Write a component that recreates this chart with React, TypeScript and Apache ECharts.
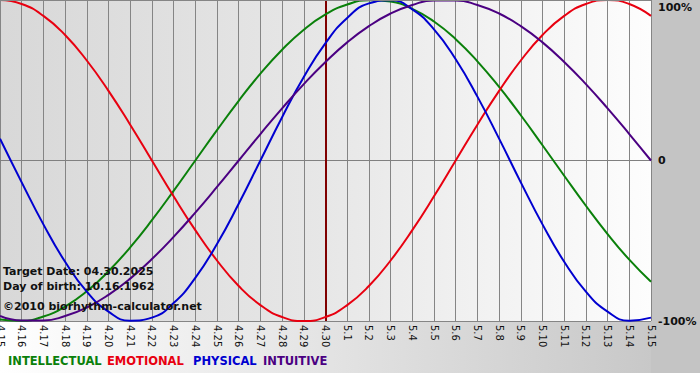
import React, { useEffect, useRef } from "react";
import * as echarts from "echarts";

const dates = [
  "4.15", "4.16", "4.17", "4.18", "4.19", "4.20", "4.21", "4.22", "4.23", "4.24",
  "4.25", "4.26", "4.27", "4.28", "4.29", "4.30", "5.1", "5.2", "5.3", "5.4",
  "5.5", "5.6", "5.7", "5.8", "5.9", "5.10", "5.11", "5.12", "5.13", "5.14", "5.15",
];

const intellectual = [
  -0.99, -0.999, -0.972, -0.91, -0.815, -0.69, -0.541, -0.372, -0.189, 0,
  0.189, 0.372, 0.541, 0.69, 0.815, 0.91, 0.972, 0.999, 0.99, 0.945,
  0.866, 0.756, 0.618, 0.458, 0.282, 0.095, -0.095, -0.282, -0.458, -0.618, -0.756,
];

const emotional = [
  1, 0.975, 0.901, 0.782, 0.623, 0.434, 0.223, 0, -0.223, -0.434,
  -0.623, -0.782, -0.901, -0.975, -1, -0.975, -0.901, -0.782, -0.623, -0.434,
  -0.223, 0, 0.223, 0.434, 0.623, 0.782, 0.901, 0.975, 1, 0.975, 0.901,
];

const physical = [
  0.136, -0.136, -0.398, -0.631, -0.817, -0.942, -0.998, -0.979, -0.888, -0.731,
  -0.52, -0.27, 0, 0.27, 0.52, 0.731, 0.888, 0.979, 0.998, 0.942,
  0.817, 0.631, 0.398, 0.136, -0.136, -0.398, -0.631, -0.817, -0.942, -0.998, -0.979,
];

const intuitive = [
  -0.969, -0.997, -0.997, -0.969, -0.916, -0.837, -0.736, -0.614, -0.476, -0.325,
  -0.165, 0, 0.165, 0.325, 0.476, 0.614, 0.736, 0.837, 0.916, 0.969,
  0.997, 0.997, 0.969, 0.916, 0.837, 0.736, 0.614, 0.476, 0.325, 0.165, 0,
];

const seriesNames = ["INTELLECTUAL", "EMOTIONAL", "PHYSICAL", "INTUITIVE"];
const seriesColors = ["#0a800a", "#e80010", "#0000d0", "#4b0082"];
const targetDate = "4.30";
const infoLines = ["Target Date: 04.30.2025", "Day of birth: 10.16.1962", "©2010 biorhythm-calculator.net"];

const FONT = "'DejaVu Sans', Verdana, sans-serif";

export default function App() {
  const ref = useRef<HTMLDivElement>(null);

  useEffect(() => {
    document.body.style.margin = "0";
    if (!ref.current) return;
    const chart = echarts.init(ref.current, undefined, { renderer: "svg" });
    const values = [intellectual, emotional, physical, intuitive];
    const legendX = [8, 107, 193, 263];

    chart.setOption({
      animation: false,
      backgroundColor: {
        type: "linear", x: 0, y: 0, x2: 1, y2: 0,
        colorStops: [
          { offset: 0, color: "#ffffff" },
          { offset: 1, color: "#c4c4c4" },
        ],
      },
      grid: {
        left: 0, right: 49, top: 0, bottom: 59,
        containLabel: false,
        outerBoundsMode: "none",
        show: true,
        borderWidth: 0,
        backgroundColor: {
          type: "linear", x: 0, y: 0, x2: 1, y2: 0,
          colorStops: [
            { offset: 0, color: "#d8d8d8" },
            { offset: 0.5, color: "#e7e7e7" },
            { offset: 1, color: "#fdfdfd" },
          ],
        },
      },
      xAxis: {
        type: "category",
        data: dates,
        boundaryGap: false,
        axisLine: { show: true, lineStyle: { color: "#808080", width: 1 } },
        axisTick: { show: true, interval: 0, length: 3, lineStyle: { color: "#808080" } },
        axisLabel: {
          interval: 0,
          rotate: -90,
          margin: 4,
          fontSize: 10,
          color: "#111",
          fontFamily: FONT,
        },
        splitLine: { show: true, interval: 0, lineStyle: { color: "#858585", width: 1 } },
      },
      yAxis: {
        type: "value",
        position: "right",
        min: -1,
        max: 1,
        interval: 1,
        axisLine: { show: false },
        axisTick: { show: false },
        splitLine: { show: true, lineStyle: { color: "#858585", width: 1 } },
        axisLabel: {
          margin: 7,
          fontFamily: FONT,
          fontSize: 11,
          fontWeight: "bold",
          color: "#111",
          formatter: (v: number) => (v === 1 ? "{top|100%}" : v === 0 ? "0" : "-100%"),
          rich: {
            top: { padding: [14, 0, 0, 0], fontFamily: FONT, fontSize: 11, fontWeight: "bold", color: "#111" },
          },
        },
      },
      series: values.map((d, i) => ({
        name: seriesNames[i],
        type: "line",
        data: d,
        smooth: true,
        showSymbol: false,
        lineStyle: { color: seriesColors[i], width: 2 },
        itemStyle: { color: seriesColors[i] },
        z: 3,
        markLine:
          i === 0
            ? {
                silent: true,
                symbol: ["none", "none"],
                label: { show: false },
                lineStyle: { color: "#800000", width: 2, type: "solid" },
                data: [{ xAxis: targetDate }],
                z: 2,
              }
            : undefined,
      })),
      graphic: [
        { type: "rect", left: 651, top: 0, shape: { width: 49, height: 373 }, style: { fill: "#c4c4c4" }, z: -1 },
        { type: "rect", left: 0, top: 0, shape: { width: 651, height: 1 }, style: { fill: "#858585" }, z: 5 },
        { type: "rect", left: 0, top: 373, shape: { width: 700, height: 7 }, style: { fill: "#ffffff" }, z: -1 },
        ...infoLines.map((t, i) => ({
          type: "text",
          left: 3,
          top: [266, 281, 301][i],
          z: 10,
          style: { text: t, fill: "#111", font: `bold 11px ${FONT}` },
        })),
        ...seriesNames.map((n, i) => ({
          type: "text",
          left: legendX[i],
          top: 355,
          z: 10,
          style: { text: n, fill: seriesColors[i], font: `bold 11.5px ${FONT}` },
        })),
      ],
    });

    return () => chart.dispose();
  }, []);

  return <div ref={ref} style={{ width: 700, height: 380 }} />;
}
